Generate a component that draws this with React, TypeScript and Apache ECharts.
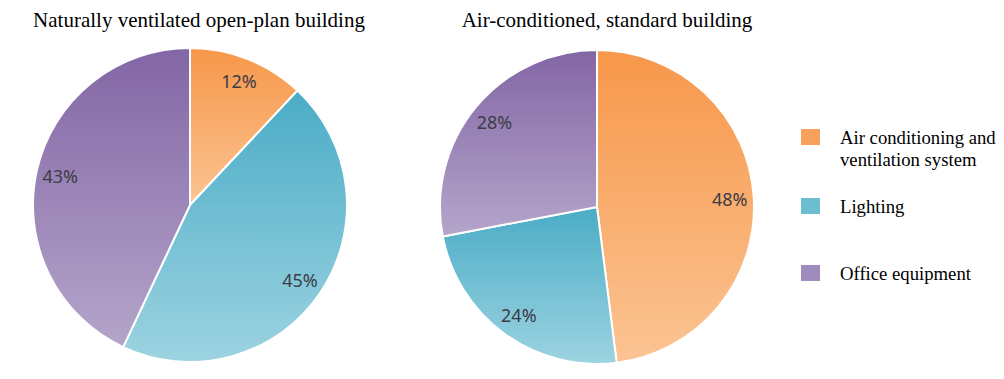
import React, { useEffect, useRef } from "react";
import * as echarts from "echarts";

const categories = ["Air conditioning and ventilation system", "Lighting", "Office equipment"];
const legendLabels = ["Air conditioning and\nventilation system", "Lighting", "Office equipment"];
const titles = ["Naturally ventilated open-plan building", "Air-conditioned, standard building"];
const naturalValues = [12, 45, 43];
const airConValues = [48, 24, 28];

const topColors = ["#F7974A", "#4BACC6", "#8366A5"];
const bottomColors = ["#FBC493", "#9CD3E1", "#B4A5CA"];
const legendColors = ["#F8A05E", "#6DBDD0", "#A08BBD"];

const grad = (i: number) =>
  new echarts.graphic.LinearGradient(0, 0, 0, 1, [
    { offset: 0, color: topColors[i] },
    { offset: 1, color: bottomColors[i] },
  ]);

const makeData = (vals: number[]) =>
  vals.map((v, i) => ({ name: categories[i], value: v, itemStyle: { color: grad(i) } }));

const makeLabelData = (vals: number[]) =>
  vals.map((v, i) => ({ name: categories[i], value: v }));

export default function App() {
  const ref = useRef<HTMLDivElement>(null);
  useEffect(() => {
    if (!ref.current) return;
    const chart = echarts.init(ref.current, undefined, { renderer: "svg" });
    const centers = [
      [190, 205],
      [597, 207],
    ];
    const valueSets = [naturalValues, airConValues];
    const series: any[] = [];
    valueSets.forEach((vals, k) => {
      series.push({
        type: "pie",
        center: centers[k],
        radius: 157,
        startAngle: 90,
        clockwise: true,
        silent: true,
        label: { show: false },
        labelLine: { show: false },
        itemStyle: { borderColor: "#ffffff", borderWidth: 2 },
        emphasis: { disabled: true },
        data: makeData(vals),
      });
      series.push({
        type: "pie",
        center: centers[k],
        radius: [104, 156],
        startAngle: 90,
        clockwise: true,
        silent: true,
        itemStyle: { color: "rgba(0,0,0,0)", borderWidth: 0 },
        label: {
          show: true,
          position: "inside",
          formatter: "{c}%",
          fontFamily: "Noto Sans",
          fontSize: 18,
          color: "#3C3C46",
        },
        labelLine: { show: false },
        emphasis: { disabled: true },
        data: makeLabelData(vals),
      });
    });

    const legendCenters = [137, 206, 273];
    const graphic: any[] = [];
    categories.forEach((c, i) => {
      graphic.push({
        type: "rect",
        shape: { x: 801, y: legendCenters[i] - 8, width: 19, height: 16 },
        style: { fill: legendColors[i] },
      });
      graphic.push({
        type: "text",
        x: 840,
        y: legendCenters[i] - 11,
        style: {
          text: legendLabels[i],
          fontFamily: "Liberation Serif",
          fontSize: 18.7,
          lineHeight: 22,
          fill: "#000000",
          verticalAlign: "top",
          align: "left",
        },
      });
    });

    chart.setOption({
      animation: false,
      backgroundColor: "#ffffff",
      title: [
        {
          text: titles[0],
          left: 194,
          top: 4,
          textAlign: "center",
          textStyle: { fontFamily: "Liberation Serif", fontSize: 21, fontWeight: "normal", color: "#000" },
        },
        {
          text: titles[1],
          left: 602,
          top: 4,
          textAlign: "center",
          textStyle: { fontFamily: "Liberation Serif", fontSize: 21, fontWeight: "normal", color: "#000" },
        },
      ],
      series,
      graphic,
    });
    return () => chart.dispose();
  }, []);
  return (
    <div
      ref={ref}
      style={{ position: "absolute", left: 0, top: 0, width: 1004, height: 379 }}
    />
  );
}
